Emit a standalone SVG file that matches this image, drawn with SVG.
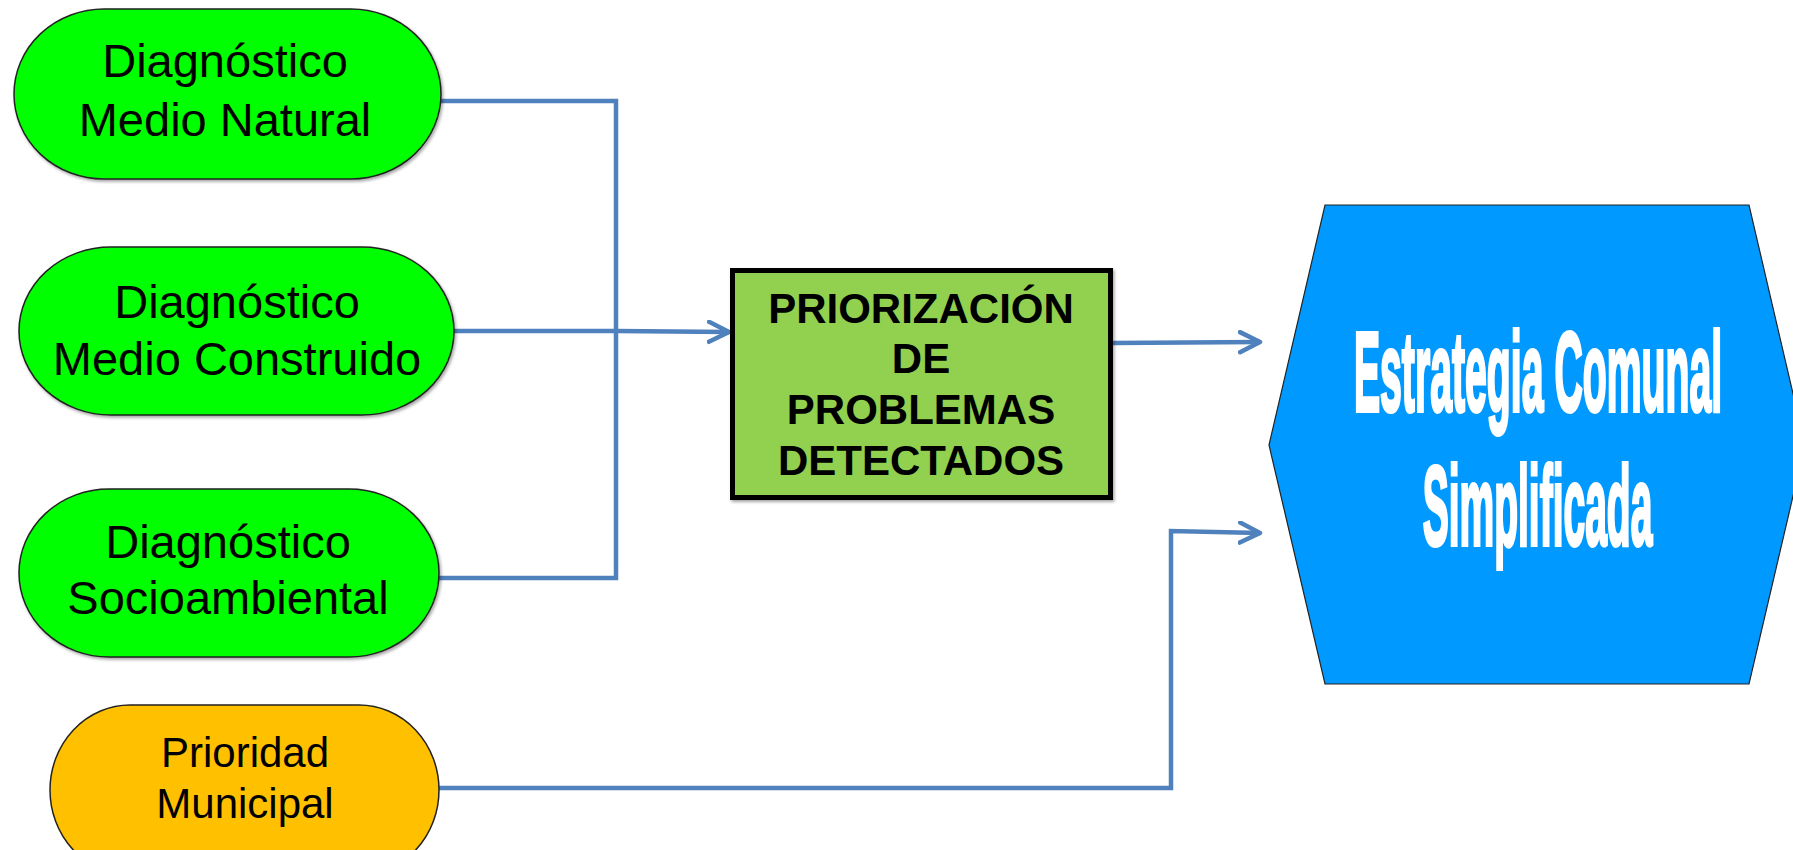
<svg xmlns="http://www.w3.org/2000/svg" width="1793" height="850" viewBox="0 0 1793 850">
  <style>
    .lbl { font-family: "Liberation Sans", Arial, sans-serif; fill: #000; text-anchor: middle; }
    .n { font-size: 47px; }
    .n4 { font-size: 42px; }
    .bx { font-size: 42px; font-weight: bold; }
    .hx { font-family: "Liberation Sans", Arial, sans-serif; font-size: 114px; font-weight: bold; fill: #fff; stroke: #fff; stroke-width: 3; text-anchor: middle; }
    .green { fill: #00FF00; stroke: #222; stroke-width: 1.5; }
    .conn { fill: none; stroke: #4F81BD; stroke-width: 4.5; }
  </style>
  <defs>
    <filter id="sh" x="-5%" y="-5%" width="112%" height="115%">
      <feDropShadow dx="1.5" dy="2" stdDeviation="1.5" flood-color="#000" flood-opacity="0.35"/>
    </filter>
    <marker id="arr" markerWidth="26" markerHeight="26" viewBox="0 0 26 26" refX="22" refY="12" orient="auto" markerUnits="userSpaceOnUse">
      <path d="M2,2 L22,12 L2,22" fill="none" stroke="#4F81BD" stroke-width="4.5" stroke-linecap="round" stroke-linejoin="round"/>
    </marker>
  </defs>
  <rect width="1793" height="850" fill="#fff"/>

  <g id="connectors">
    <path class="conn" d="M440,101 H616 V578 H438"/>
    <path class="conn" d="M454,331 H616 L729,332" marker-end="url(#arr)"/>
    <path class="conn" d="M1112,343 L1260,342" marker-end="url(#arr)"/>
    <path class="conn" d="M439,788 H1171 V531 L1260,533" marker-end="url(#arr)"/>
  </g>

  <g id="node-medio-natural">
    <rect class="green" x="14" y="9" width="427" height="170" rx="90" ry="85" filter="url(#sh)"/>
    <text class="lbl n" x="225" y="77">Diagnóstico</text>
    <text class="lbl n" x="225" y="136">Medio Natural</text>
  </g>

  <g id="node-medio-construido">
    <rect class="green" x="19" y="247" width="435" height="168" rx="92" ry="84" filter="url(#sh)"/>
    <text class="lbl n" x="237" y="318">Diagnóstico</text>
    <text class="lbl n" x="237" y="375">Medio Construido</text>
  </g>

  <g id="node-socioambiental">
    <rect class="green" x="19" y="489" width="420" height="168" rx="90" ry="84" filter="url(#sh)"/>
    <text class="lbl n" x="228" y="558">Diagnóstico</text>
    <text class="lbl n" x="228" y="614">Socioambiental</text>
  </g>

  <g id="node-prioridad-municipal">
    <rect x="50" y="705" width="389" height="170" rx="80" ry="85" fill="#FFC000" stroke="#222" stroke-width="1.5"/>
    <text class="lbl n4" x="245" y="767">Prioridad</text>
    <text class="lbl n4" x="245" y="818">Municipal</text>
  </g>

  <g id="node-priorizacion">
    <rect x="732.5" y="270.5" width="378" height="227" fill="#92D050" stroke="#000" stroke-width="5" filter="url(#sh)"/>
    <text class="lbl bx" x="921" y="323">PRIORIZACIÓN</text>
    <text class="lbl bx" x="921" y="373">DE</text>
    <text class="lbl bx" x="921" y="424">PROBLEMAS</text>
    <text class="lbl bx" x="921" y="475">DETECTADOS</text>
  </g>

  <g id="node-estrategia">
    <polygon points="1325,205 1749,205 1805,445 1749,684 1325,684 1269,445" fill="#0099FF" stroke="#222" stroke-width="1.2"/>
    <text class="hx" transform="translate(1538,411) scale(0.344,1)" x="0" y="0" vector-effect="non-scaling-stroke">Estrategia Comunal</text>
    <text class="hx" transform="translate(1537.5,545) scale(0.342,1)" x="0" y="0" vector-effect="non-scaling-stroke">Simplificada</text>
  </g>
</svg>
